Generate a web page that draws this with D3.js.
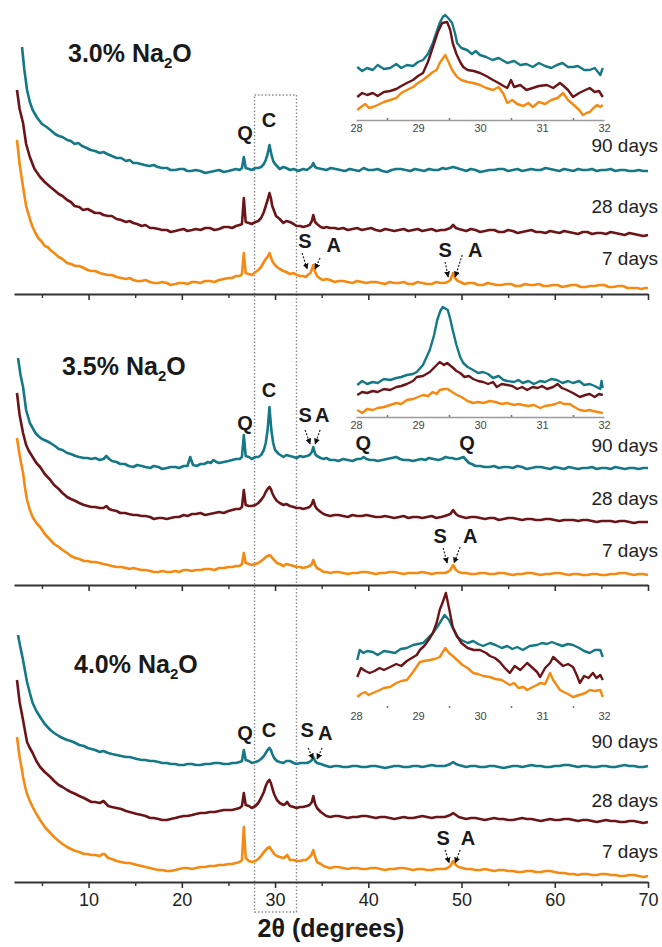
<!DOCTYPE html>
<html><head><meta charset="utf-8">
<script src="https://cdn.jsdelivr.net/npm/d3@7/dist/d3.min.js"></script>
<style>body{margin:0;background:#fff}svg{display:block}</style>
</head><body><svg id="c" width="662" height="947"></svg>
<script>
// ---------------- DATA ----------------
const xTicksMajor = [10, 20, 30, 40, 50, 60, 70];
const xTicksMinor = [5, 15, 25, 35, 45, 55, 65];
const insetTicks = [28, 29, 30, 31, 32];
const insetMinor = [28.5, 29.5, 30.5, 31.5];
const panelTitles = ["3.0%", "3.5%", "4.0%"];
const ages = ["90 days", "28 days", "7 days"];
const zoomWindow = [27.8, 32.3];
const xLabel = "2θ (degrees)";

// 3.0% Na2O  [2θ, intensity a.u.]
const xrd30_90 = [[2.86,247],[3.1,225],[3.4,204],[3.7,192],[4.0,184],[4.5,176],[5.0,170],[5.5,167],[5.9,164],[6.4,160],[6.8,158],[7.2,157],[7.7,154],[8.1,153],[8.5,150],[8.9,151],[9.3,148],[9.8,146],[10.2,144],[10.7,143],[11.2,141],[11.6,142],[12,140],[12.5,138],[13,136],[13.5,136],[14,133],[14.4,134],[14.8,131],[15.2,131],[15.6,130],[16,129],[16.5,128],[17,129],[17.4,127],[17.9,126],[18.4,126],[18.8,124],[19.3,124],[19.8,125],[20.2,125],[20.6,123],[21,123],[21.5,124],[22,123],[22.5,121],[23,122],[23.5,123],[24,124],[24.5,122],[25,123],[25.4,124],[25.8,125],[26.2,124],[26.45,126],[26.65,137],[26.85,126],[27.2,125],[27.5,124],[27.9,126],[28.2,126],[28.5,127],[28.8,130],[29.0,134],[29.2,140],[29.4,149],[29.6,140],[29.8,133],[30,130],[30.3,127],[30.5,125],[30.9,127],[31.2,126],[31.6,124],[32,125],[32.5,123],[33,125],[33.4,124],[33.7,126],[33.95,128],[34.1,131],[34.3,127],[34.5,126],[35,125],[35.5,124],[36,126],[36.5,125],[37,124],[37.5,123],[38,125],[38.5,124],[39,123],[39.5,126],[40,124],[40.5,124],[41,125],[41.5,123],[42,122],[42.5,124],[43,125],[43.5,125],[44,124],[44.5,123],[45,125],[45.5,124],[46,123],[46.5,125],[47,124],[47.5,124],[48,126],[48.3,125],[48.7,126],[49.1,127],[49.5,126],[49.8,125],[50.2,124],[50.5,123],[51,125],[51.5,124],[52,122],[52.5,123],[53,124],[53.5,124],[54,125],[54.5,125],[55,123],[55.5,124],[56,125],[56.5,123],[57,124],[57.5,125],[58,124],[58.5,124],[59,126],[59.5,125],[60,124],[60.5,123],[61,125],[61.5,124],[62,123],[62.5,125],[63,124],[63.5,124],[64,125],[64.5,123],[65,124],[65.5,124],[66,125],[66.5,123],[67,124],[67.5,124],[68,123],[68.5,123],[69,124],[69.5,123],[70,123]];
const xrd30_28 = [[2.32,204],[2.6,185],[2.97,171],[3.3,150],[3.7,137],[4.2,125],[4.8,117],[5.3,112],[5.9,107],[6.3,104],[6.8,100],[7.2,98],[7.7,94],[8.1,92],[8.5,88],[9.0,87],[9.4,84],[9.9,85],[10.3,83],[10.7,81],[11.2,81],[11.6,79],[12.1,78],[12.5,78],[13,75],[13.5,74],[14,72],[14.4,73],[14.8,71],[15.2,70],[15.7,68],[16.1,69],[16.6,66],[17,66],[17.5,65],[17.9,64],[18.4,64],[18.8,62],[19.3,63],[19.7,64],[20.2,65],[20.6,63],[21.1,64],[21.5,65],[22,64],[22.5,66],[23,66],[23.5,64],[24,65],[24.5,67],[25,67],[25.4,66],[25.8,68],[26.2,69],[26.45,70],[26.65,96],[26.85,72],[27.2,71],[27.5,70],[27.9,72],[28.2,73],[28.5,76],[28.8,82],[29.0,88],[29.2,94],[29.4,101],[29.55,96],[29.7,88],[29.9,83],[30.1,78],[30.5,75],[30.9,71],[31.2,73],[31.6,72],[32,70],[32.3,68],[32.7,68],[33,67],[33.4,68],[33.7,69],[33.95,73],[34.1,79],[34.3,72],[34.5,70],[34.9,67],[35.2,66],[35.5,67],[35.9,66],[36.4,66],[36.8,65],[37.3,66],[37.8,64],[38.3,65],[38.8,66],[39.3,64],[39.8,65],[40.3,66],[40.8,64],[41.3,63],[41.8,65],[42.3,64],[42.8,63],[43.3,64],[43.8,65],[44.3,63],[44.8,64],[45.3,65],[45.8,63],[46.3,64],[46.8,65],[47.3,63],[47.8,64],[48.2,64],[48.5,65],[48.8,66],[49.1,69],[49.4,66],[49.7,65],[50.1,64],[50.5,63],[51,65],[51.5,64],[52,62],[52.5,63],[53,64],[53.5,64],[54,62],[54.5,62],[55,64],[55.5,63],[56,61],[56.5,62],[57,63],[57.5,64],[58,62],[58.5,62],[59,61],[59.5,63],[60,62],[60.5,61],[61,63],[61.5,62],[62,61],[62.5,60],[63,62],[63.5,62],[64,60],[64.5,61],[65,61],[65.5,60],[66,62],[66.5,61],[67,60],[67.5,59],[68,61],[68.5,60],[69,59],[69.5,58],[70,59]];
const xrd30_7 = [[2.32,154],[2.6,130],[2.97,107],[3.3,88],[3.7,75],[4.0,67],[4.3,61],[4.6,56],[5.0,52],[5.3,48],[5.6,47],[5.9,44],[6.3,41],[6.8,37],[7.2,35],[7.7,31],[8.1,30],[8.6,28],[9.0,28],[9.5,26],[9.9,24],[10.3,23],[10.7,23],[11.2,21],[11.6,20],[12.1,19],[12.5,19],[13,17],[13.5,16],[14,15],[14.4,16],[14.8,14],[15.2,13],[15.7,13],[16.1,14],[16.6,12],[17,11],[17.5,11],[17.9,12],[18.4,11],[18.8,9],[19.3,10],[19.7,11],[20.2,11],[20.6,10],[21.1,12],[21.5,12],[22,11],[22.5,13],[23,13],[23.5,12],[24,14],[24.5,15],[25,16],[25.4,16],[25.8,18],[26.2,18],[26.45,20],[26.65,41],[26.85,21],[27.2,20],[27.5,19],[27.9,22],[28.2,24],[28.5,27],[28.8,32],[29.0,35],[29.2,37],[29.4,41],[29.55,37],[29.7,33],[29.9,30],[30.2,27],[30.5,25],[30.9,23],[31.2,22],[31.6,20],[32,21],[32.3,19],[32.7,18],[33,18],[33.3,17],[33.5,19],[33.8,21],[34.1,29],[34.3,22],[34.5,18],[34.9,15],[35.2,14],[35.5,15],[35.9,14],[36.4,12],[36.8,13],[37.3,13],[37.8,12],[38.3,11],[38.8,13],[39.3,12],[39.8,11],[40.3,12],[40.8,12],[41.3,11],[41.8,10],[42.3,12],[42.8,11],[43.3,11],[43.8,12],[44.3,10],[44.8,10],[45.3,12],[45.8,11],[46.3,10],[46.8,10],[47.3,12],[47.8,11],[48.2,11],[48.5,12],[48.8,14],[49.1,21],[49.3,16],[49.6,13],[49.9,12],[50.3,10],[50.8,11],[51.3,11],[51.8,9],[52.3,9],[52.8,11],[53.3,10],[53.8,9],[54.3,9],[54.8,10],[55.3,10],[55.8,8],[56.3,8],[56.8,10],[57.3,9],[57.8,9],[58.3,10],[58.8,8],[59.3,8],[59.8,9],[60.3,9],[60.8,7],[61.3,8],[61.8,9],[62.3,9],[62.8,7],[63.3,7],[63.8,8],[64.3,8],[64.8,9],[65.3,9],[65.8,7],[66.3,7],[66.8,8],[67.3,8],[67.8,6],[68.3,6],[68.8,6],[69.3,5],[69.7,6],[70,6]];

// 3.5% Na2O
const xrd35_90 = [[2.43,227],[2.7,210],[2.97,198],[3.3,175],[3.7,162],[4.3,152],[4.6,149],[5.0,146],[5.5,144],[5.9,142],[6.4,139],[6.8,136],[7.2,135],[7.7,132],[8.1,131],[8.6,129],[9,128],[9.5,127],[9.9,127],[10.3,126],[10.7,127],[11.2,125],[11.6,126],[11.9,129],[12.2,126],[12.5,124],[13,123],[13.4,121],[13.9,121],[14.3,119],[14.8,118],[15.2,120],[15.7,119],[16.1,118],[16.6,117],[17,119],[17.5,118],[17.9,116],[18.4,117],[18.8,118],[19.3,118],[19.7,117],[20.2,119],[20.6,119],[20.9,128],[21.2,120],[21.6,119],[22,121],[22.4,121],[22.8,123],[23.1,122],[23.4,125],[23.7,123],[24,122],[24.5,123],[25,124],[25.4,125],[25.8,126],[26.2,126],[26.45,128],[26.65,150],[26.85,129],[27.2,128],[27.5,126],[27.9,128],[28.2,128],[28.5,130],[28.8,135],[29.0,142],[29.2,155],[29.4,178],[29.6,155],[29.8,142],[30,135],[30.4,131],[30.9,128],[31.2,130],[31.6,129],[32,128],[32.3,127],[32.7,129],[33,128],[33.4,129],[33.7,130],[33.95,133],[34.1,138],[34.3,131],[34.5,129],[34.9,127],[35.2,126],[35.5,127],[35.9,125],[36.4,125],[36.8,124],[37.3,126],[37.8,125],[38.3,124],[38.8,126],[39.2,126],[39.5,128],[39.8,126],[40.2,125],[40.6,125],[41,124],[41.5,125],[42,126],[42.5,127],[43,128],[43.4,126],[43.8,125],[44.3,125],[44.8,124],[45.2,125],[45.7,126],[46.1,125],[46.5,127],[47,126],[47.5,125],[47.9,126],[48.3,128],[48.7,127],[49,127],[49.3,126],[49.6,126],[49.9,127],[50.2,128],[50.5,125],[50.8,122],[51.1,121],[51.5,119],[52,119],[52.5,118],[53,118],[53.5,119],[54,117],[54.5,118],[55,118],[55.5,117],[56,119],[56.5,118],[57,116],[57.5,117],[58,118],[58.5,118],[59,117],[59.5,116],[60,118],[60.5,117],[61,116],[61.5,118],[62,117],[62.5,116],[63,117],[63.5,117],[64,118],[64.5,116],[65,117],[65.5,117],[66,116],[66.5,118],[67,117],[67.5,116],[68,117],[68.5,117],[69,116],[69.5,117],[70,117]];
const xrd35_28 = [[2.32,192],[2.6,170],[2.97,152],[3.3,140],[3.6,134],[4.0,128],[4.4,122],[4.8,118],[5.3,111],[5.9,105],[6.3,100],[6.8,96],[7.2,92],[7.7,88],[8.1,86],[8.6,84],[9,82],[9.5,80],[9.9,79],[10.3,78],[10.7,78],[11.2,77],[11.6,77],[11.9,79],[12.2,76],[12.5,75],[13,74],[13.4,72],[13.9,72],[14.3,71],[14.8,70],[15.2,70],[15.7,69],[16.1,69],[16.6,68],[17,66],[17.5,67],[17.9,67],[18.4,66],[18.8,67],[19.3,68],[19.7,68],[20.2,70],[20.6,69],[21.1,71],[21.5,71],[22,72],[22.5,70],[23,71],[23.5,72],[24,73],[24.5,72],[25,74],[25.4,75],[25.8,76],[26.2,76],[26.45,78],[26.65,95],[26.85,80],[27.2,79],[27.5,79],[27.9,80],[28.2,82],[28.5,85],[28.8,89],[29.0,93],[29.2,96],[29.4,98],[29.55,96],[29.7,92],[29.9,88],[30.2,84],[30.5,82],[30.9,80],[31.2,81],[31.6,79],[32,78],[32.3,77],[32.7,77],[33,76],[33.4,77],[33.7,78],[33.95,81],[34.1,85],[34.3,79],[34.5,76],[34.9,73],[35.2,71],[35.5,70],[35.9,69],[36.4,70],[36.8,70],[37.3,69],[37.8,68],[38.3,70],[38.8,69],[39.3,69],[39.8,70],[40.3,69],[40.8,68],[41.3,68],[41.8,69],[42.3,68],[42.8,67],[43.3,68],[43.8,69],[44.3,67],[44.8,68],[45.3,68],[45.8,67],[46.3,68],[46.8,69],[47.3,67],[47.8,68],[48.2,69],[48.5,70],[48.8,71],[49.1,75],[49.4,71],[49.7,69],[50.1,68],[50.5,67],[51,68],[51.5,68],[52,67],[52.5,66],[53,67],[53.5,67],[54,65],[54.5,66],[55,67],[55.5,67],[56,66],[56.5,65],[57,66],[57.5,66],[58,65],[58.5,65],[59,66],[59.5,66],[60,65],[60.5,64],[61,65],[61.5,65],[62,65],[62.5,64],[63,65],[63.5,65],[64,64],[64.5,63],[65,64],[65.5,64],[66,64],[66.5,63],[67,64],[67.5,64],[68,63],[68.5,62],[69,63],[69.5,63],[70,63]];
const xrd35_7 = [[2.32,147],[2.6,130],[2.8,120],[2.97,112],[3.2,96],[3.4,85],[3.7,75],[4.0,68],[4.4,62],[4.8,58],[5.3,51],[5.9,45],[6.3,41],[6.8,38],[7.2,35],[7.7,32],[8.1,29],[8.6,27],[9,26],[9.5,24],[9.9,24],[10.3,23],[10.7,23],[11.2,22],[11.6,21],[12.1,20],[12.5,19],[13,18],[13.5,18],[14,17],[14.4,16],[14.8,17],[15.2,16],[15.7,15],[16.1,15],[16.6,14],[17,13],[17.5,13],[17.9,14],[18.4,13],[18.8,13],[19.3,14],[19.7,13],[20.2,15],[20.6,15],[21.1,14],[21.5,15],[22,15],[22.5,16],[23,16],[23.5,15],[24,17],[24.5,17],[25,18],[25.4,18],[25.8,19],[26.2,19],[26.45,21],[26.65,32],[26.85,22],[27.2,21],[27.5,20],[27.9,21],[28.2,22],[28.5,24],[28.8,26],[29.0,28],[29.2,29],[29.4,30],[29.55,29],[29.7,27],[29.9,25],[30.2,22],[30.5,21],[30.9,19],[31.2,21],[31.6,20],[32,19],[32.3,18],[32.7,18],[33,17],[33.4,18],[33.7,19],[33.95,21],[34.1,25],[34.3,20],[34.5,17],[34.9,15],[35.2,13],[35.5,13],[35.9,12],[36.4,13],[36.8,13],[37.3,12],[37.8,11],[38.3,12],[38.8,12],[39.3,13],[39.8,13],[40.3,12],[40.8,11],[41.3,12],[41.8,12],[42.3,13],[42.8,13],[43.3,12],[43.8,11],[44.3,12],[44.8,12],[45.3,12],[45.8,13],[46.3,12],[46.8,11],[47.3,12],[47.8,12],[48.2,12],[48.5,13],[48.8,15],[49.1,20],[49.4,15],[49.7,13],[50.1,12],[50.5,12],[51,11],[51.5,11],[52,12],[52.5,12],[53,11],[53.5,11],[54,12],[54.5,12],[55,11],[55.5,10],[56,11],[56.5,11],[57,12],[57.5,12],[58,11],[58.5,10],[59,11],[59.5,11],[60,12],[60.5,12],[61,11],[61.5,10],[62,11],[62.5,11],[63,10],[63.5,10],[64,11],[64.5,11],[65,10],[65.5,10],[66,11],[66.5,11],[67,12],[67.5,12],[68,11],[68.5,10],[69,11],[69.5,11],[70,10]];

// 4.0% Na2O
const xrd40_90 = [[2.43,247],[2.7,234],[2.97,222],[3.2,210],[3.4,200],[3.7,189],[4.0,179],[4.4,171],[4.8,165],[5.3,158],[5.9,152],[6.3,149],[6.8,146],[7.2,144],[7.7,142],[8.1,141],[8.6,139],[9,137],[9.5,136],[9.9,134],[10.3,133],[10.7,132],[11.2,130],[11.6,131],[12.1,129],[12.5,128],[13,127],[13.5,126],[14,125],[14.4,125],[14.8,124],[15.2,123],[15.7,122],[16.1,122],[16.6,121],[17,121],[17.5,120],[17.9,119],[18.4,119],[18.8,118],[19.3,118],[19.7,117],[20.2,117],[20.6,118],[21.1,118],[21.5,117],[22,117],[22.5,118],[23,118],[23.5,119],[24,119],[24.5,118],[25,118],[25.4,119],[25.8,119],[26.2,120],[26.45,121],[26.65,132],[26.85,122],[27.2,121],[27.5,119],[27.9,120],[28.2,121],[28.5,123],[28.8,126],[29.0,129],[29.2,132],[29.4,134],[29.55,132],[29.7,128],[29.9,124],[30.2,121],[30.5,120],[30.9,119],[31.2,121],[31.6,121],[32,119],[32.3,118],[32.7,119],[33,119],[33.4,119],[33.7,120],[33.95,122],[34.1,125],[34.3,121],[34.5,119],[34.9,118],[35.2,117],[35.5,116],[35.9,115],[36.4,116],[36.8,116],[37.3,115],[37.8,115],[38.3,116],[38.8,116],[39.3,115],[39.8,115],[40.3,116],[40.8,116],[41.3,115],[41.8,114],[42.3,115],[42.8,116],[43.3,116],[43.8,115],[44.3,115],[44.8,116],[45.3,116],[45.8,115],[46.3,116],[46.8,117],[47.3,116],[47.8,116],[48.2,116],[48.5,117],[48.8,118],[49.1,120],[49.4,118],[49.7,117],[50.1,116],[50.5,115],[51,116],[51.5,116],[52,115],[52.5,115],[53,116],[53.5,116],[54,115],[54.5,114],[55,115],[55.5,116],[56,116],[56.5,115],[57,116],[57.5,117],[58,116],[58.5,116],[59,115],[59.5,115],[60,116],[60.5,116],[61,117],[61.5,117],[62,116],[62.5,115],[63,116],[63.5,116],[64,115],[64.5,115],[65,116],[65.5,116],[66,115],[66.5,115],[67,116],[67.5,117],[68,116],[68.5,116],[69,115],[69.5,115],[70,116]];
const xrd40_28 = [[2.32,202],[2.6,180],[2.97,162],[3.2,150],[3.4,140],[3.7,134],[4.0,129],[4.4,121],[4.8,115],[5.3,110],[5.9,105],[6.3,101],[6.8,97],[7.2,95],[7.7,92],[8.1,90],[8.6,88],[9,86],[9.5,84],[9.9,82],[10.3,80],[10.7,80],[11.2,79],[11.6,81],[12.1,76],[12.5,75],[13,74],[13.5,73],[14,71],[14.4,70],[14.8,69],[15.2,68],[15.7,67],[16.1,66],[16.6,64],[17,64],[17.5,63],[17.9,62],[18.4,62],[18.8,63],[19.3,64],[19.7,65],[20.2,66],[20.6,66],[21.1,67],[21.5,68],[22,69],[22.5,69],[23,70],[23.5,70],[24,71],[24.5,72],[25,72],[25.4,72],[25.8,73],[26.2,74],[26.45,76],[26.65,89],[26.85,77],[27.2,76],[27.5,74],[27.9,76],[28.2,79],[28.5,84],[28.8,90],[29.0,96],[29.2,100],[29.4,102],[29.55,99],[29.7,94],[29.9,88],[30.2,82],[30.5,79],[30.9,77],[31.1,78],[31.3,80],[31.6,76],[32,75],[32.3,74],[32.7,75],[33,75],[33.4,76],[33.7,77],[33.95,80],[34.1,86],[34.3,78],[34.5,74],[34.9,70],[35.2,68],[35.5,66],[35.9,65],[36.4,66],[36.8,66],[37.3,65],[37.8,64],[38.3,65],[38.8,65],[39.3,66],[39.8,66],[40.3,65],[40.8,64],[41.3,65],[41.8,65],[42.3,64],[42.8,63],[43.3,64],[43.8,65],[44.3,64],[44.8,64],[45.3,65],[45.8,66],[46.3,65],[46.8,64],[47.3,65],[47.8,65],[48.2,65],[48.5,66],[48.8,67],[49.1,69],[49.4,67],[49.7,65],[50.1,64],[50.5,63],[51,64],[51.5,64],[52,63],[52.5,62],[53,63],[53.5,64],[54,63],[54.5,63],[55,62],[55.5,62],[56,63],[56.5,64],[57,63],[57.5,63],[58,62],[58.5,61],[59,62],[59.5,63],[60,62],[60.5,62],[61,63],[61.5,63],[62,62],[62.5,61],[63,62],[63.5,62],[64,61],[64.5,60],[65,61],[65.5,62],[66,61],[66.5,61],[67,60],[67.5,60],[68,61],[68.5,61],[69,60],[69.5,59],[70,60]];
const xrd40_7 = [[2.32,145],[2.6,125],[2.8,115],[2.97,105],[3.2,95],[3.4,88],[3.7,81],[4.0,75],[4.4,68],[4.8,62],[5.3,55],[5.9,49],[6.3,45],[6.8,41],[7.2,38],[7.7,35],[8.1,33],[8.6,31],[9,30],[9.5,28],[9.9,28],[10.3,27],[10.7,27],[11.2,26],[11.5,28],[11.7,28],[12.1,24],[12.5,23],[13,21],[13.5,20],[14,19],[14.4,19],[14.8,18],[15.2,17],[15.7,16],[16.1,15],[16.6,14],[17,13],[17.5,12],[17.9,12],[18.4,11],[18.8,11],[19.3,12],[19.7,13],[20.2,14],[20.6,14],[21.1,13],[21.5,14],[22,15],[22.5,15],[23,16],[23.5,16],[24,17],[24.5,17],[25,18],[25.4,18],[25.8,19],[26.2,20],[26.45,22],[26.65,55],[26.85,24],[27.2,21],[27.5,20],[27.9,21],[28.2,23],[28.5,26],[28.8,30],[29.0,32],[29.2,34],[29.4,35],[29.55,33],[29.7,31],[29.9,28],[30.2,26],[30.5,25],[30.9,24],[31.1,25],[31.3,27],[31.6,22],[32,22],[32.3,21],[32.7,21],[33,22],[33.3,22],[33.6,24],[33.9,27],[34.1,32],[34.3,25],[34.5,20],[34.9,18],[35.2,16],[35.5,15],[35.9,14],[36.4,15],[36.8,15],[37.3,14],[37.8,13],[38.3,14],[38.8,14],[39.3,13],[39.8,13],[40.3,14],[40.8,14],[41.3,13],[41.8,12],[42.3,13],[42.8,13],[43.3,14],[43.8,14],[44.3,13],[44.8,12],[45.3,13],[45.8,13],[46.3,12],[46.8,12],[47.3,13],[47.8,13],[48.2,13],[48.5,14],[48.8,16],[49.1,21],[49.4,17],[49.7,15],[50.1,14],[50.5,13],[51,13],[51.5,12],[52,12],[52.5,13],[53,12],[53.5,11],[54,12],[54.5,12],[55,11],[55.5,11],[56,10],[56.5,10],[57,11],[57.5,11],[58,10],[58.5,10],[59,11],[59.5,11],[60,10],[60.5,9],[61,9],[61.5,8],[62,8],[62.5,7],[63,8],[63.5,8],[64,7],[64.5,7],[65,8],[65.5,8],[66,7],[66.5,7],[67,6],[67.5,6],[68,7],[68.5,7],[69,6],[69.5,5],[70,6]];

// Insets (28–32°)
const ins30_90 = [[28.02,53],[28.1,49],[28.18,52],[28.27,50],[28.35,55],[28.45,51],[28.55,52],[28.65,56],[28.73,52],[28.82,55],[28.92,54],[29.0,58],[29.08,60],[29.16,66],[29.24,77],[29.3,88],[29.35,97],[29.4,103],[29.44,105],[29.5,101],[29.55,97],[29.6,86],[29.63,77],[29.7,72],[29.79,70],[29.87,66],[29.93,69],[30.0,65],[30.1,63],[30.2,60],[30.3,62],[30.44,57],[30.55,59],[30.65,55],[30.75,56],[30.85,53],[30.95,57],[31.05,54],[31.15,52],[31.24,55],[31.33,57],[31.42,53],[31.5,53],[31.58,54],[31.68,50],[31.77,50],[31.85,52],[31.94,45],[31.98,52]];
const ins30_28 = [[28.02,23],[28.1,27],[28.18,25],[28.27,27],[28.35,24],[28.45,28],[28.55,29],[28.65,31],[28.73,34],[28.82,37],[28.92,40],[29.0,44],[29.08,47],[29.16,58],[29.24,73],[29.32,88],[29.39,97],[29.47,98],[29.52,90],[29.56,77],[29.62,66],[29.68,58],[29.73,53],[29.8,50],[29.9,49],[30.0,47],[30.1,44],[30.21,40],[30.3,37],[30.38,34],[30.44,32],[30.5,40],[30.55,33],[30.65,35],[30.75,30],[30.85,32],[30.95,34],[31.08,35],[31.18,32],[31.29,37],[31.35,34],[31.42,30],[31.5,23],[31.6,27],[31.7,30],[31.77,32],[31.85,28],[31.92,29],[31.98,23]];
const ins30_7 = [[28.02,10],[28.08,13],[28.15,16],[28.21,12],[28.27,13],[28.35,15],[28.45,18],[28.55,20],[28.65,22],[28.73,27],[28.82,30],[28.92,33],[29.0,37],[29.08,40],[29.16,44],[29.24,48],[29.3,50],[29.35,57],[29.44,65],[29.5,57],[29.55,50],[29.63,43],[29.7,40],[29.8,38],[29.89,37],[30.0,35],[30.1,32],[30.21,30],[30.3,33],[30.38,26],[30.44,17],[30.52,20],[30.6,16],[30.7,14],[30.78,17],[30.85,13],[30.95,18],[31.05,16],[31.15,20],[31.25,22],[31.34,27],[31.42,20],[31.53,14],[31.6,10],[31.66,5],[31.72,7],[31.77,8],[31.83,12],[31.89,15],[31.94,13],[31.98,15]];
const ins35_90 = [[28.02,32],[28.1,36],[28.18,33],[28.27,35],[28.35,34],[28.45,38],[28.55,37],[28.65,39],[28.73,40],[28.82,42],[28.92,43],[28.98,45],[29.08,52],[29.19,67],[29.26,82],[29.31,97],[29.36,106],[29.4,110],[29.48,107],[29.52,98],[29.56,87],[29.62,72],[29.68,60],[29.73,54],[29.8,50],[29.89,47],[29.97,44],[30.05,45],[30.13,43],[30.21,39],[30.3,41],[30.38,37],[30.44,36],[30.55,35],[30.62,37],[30.69,34],[30.78,36],[30.87,33],[30.97,36],[31.05,35],[31.15,38],[31.24,37],[31.33,34],[31.42,36],[31.5,34],[31.6,36],[31.68,32],[31.77,33],[31.85,31],[31.94,28],[31.96,36],[31.98,29]];
const ins35_28 = [[28.02,22],[28.1,25],[28.18,24],[28.27,26],[28.35,25],[28.45,28],[28.55,27],[28.65,30],[28.73,31],[28.82,33],[28.92,36],[28.98,40],[29.08,41],[29.19,45],[29.27,50],[29.35,55],[29.42,52],[29.47,54],[29.55,50],[29.62,46],[29.68,44],[29.75,40],[29.82,41],[29.89,38],[29.97,36],[30.05,35],[30.13,33],[30.21,35],[30.27,30],[30.35,33],[30.44,32],[30.52,31],[30.6,28],[30.68,30],[30.76,27],[30.85,30],[30.93,29],[31.0,31],[31.08,28],[31.18,30],[31.25,33],[31.32,29],[31.4,27],[31.5,24],[31.61,20],[31.7,22],[31.77,23],[31.85,20],[31.92,23],[31.98,22]];
const ins35_7 = [[28.02,7],[28.1,4],[28.18,8],[28.27,7],[28.35,9],[28.45,10],[28.55,12],[28.65,14],[28.73,13],[28.82,17],[28.92,18],[29.0,20],[29.08,22],[29.16,21],[29.24,25],[29.3,23],[29.35,27],[29.42,28],[29.48,28],[29.55,25],[29.63,22],[29.7,20],[29.8,16],[29.89,14],[29.97,15],[30.05,14],[30.16,16],[30.25,15],[30.35,13],[30.44,14],[30.55,12],[30.62,13],[30.69,12],[30.78,11],[30.87,12],[30.97,9],[31.05,11],[31.15,12],[31.22,13],[31.29,15],[31.35,13],[31.45,13],[31.52,10],[31.61,7],[31.7,6],[31.77,7],[31.82,6],[31.9,5],[31.98,4]];
const ins40_90 = [[28.02,48],[28.06,58],[28.12,55],[28.18,57],[28.27,56],[28.35,53],[28.45,57],[28.55,56],[28.63,55],[28.72,59],[28.82,60],[28.92,63],[29.0,64],[29.08,65],[29.16,70],[29.24,75],[29.31,81],[29.38,88],[29.43,93],[29.5,88],[29.56,80],[29.63,71],[29.7,68],[29.8,65],[29.89,67],[29.97,64],[30.05,62],[30.16,65],[30.25,63],[30.35,60],[30.44,62],[30.52,59],[30.6,61],[30.69,58],[30.8,62],[30.92,63],[31.0,65],[31.08,64],[31.16,66],[31.24,64],[31.33,62],[31.42,64],[31.5,63],[31.6,60],[31.68,57],[31.77,55],[31.85,58],[31.94,58],[31.98,51]];
const ins40_28 = [[28.02,31],[28.08,40],[28.15,37],[28.22,35],[28.3,37],[28.38,40],[28.45,38],[28.55,41],[28.65,44],[28.73,42],[28.82,47],[28.9,50],[28.98,53],[29.03,58],[29.1,62],[29.17,68],[29.24,75],[29.3,85],[29.35,98],[29.4,106],[29.45,115],[29.5,100],[29.56,81],[29.63,72],[29.7,65],[29.8,60],[29.9,58],[30.0,58],[30.1,55],[30.16,52],[30.24,50],[30.32,46],[30.4,40],[30.48,35],[30.56,42],[30.65,38],[30.76,45],[30.85,40],[30.92,36],[30.97,31],[31.05,40],[31.13,45],[31.18,51],[31.25,47],[31.34,42],[31.42,44],[31.5,41],[31.56,33],[31.61,25],[31.68,32],[31.75,30],[31.82,35],[31.88,30],[31.94,33],[31.98,28]];
const ins40_7 = [[28.02,11],[28.08,14],[28.15,16],[28.2,13],[28.27,15],[28.35,17],[28.45,20],[28.55,21],[28.65,25],[28.73,27],[28.82,28],[28.92,36],[29.03,46],[29.1,47],[29.19,48],[29.27,49],[29.35,51],[29.44,60],[29.5,55],[29.56,52],[29.63,48],[29.72,43],[29.8,40],[29.89,35],[29.97,34],[30.05,32],[30.16,31],[30.25,29],[30.35,28],[30.48,23],[30.55,25],[30.62,20],[30.7,21],[30.76,18],[30.85,21],[30.92,23],[30.97,25],[31.05,24],[31.13,35],[31.18,28],[31.29,18],[31.35,16],[31.42,14],[31.5,11],[31.6,13],[31.7,15],[31.77,18],[31.85,17],[31.94,18],[31.98,11]];

const mainSeries = [[xrd30_90, xrd30_28, xrd30_7],[xrd35_90, xrd35_28, xrd35_7],[xrd40_90, xrd40_28, xrd40_7]];
const insetSeries = [[ins30_90, ins30_28, ins30_7],[ins35_90, ins35_28, ins35_7],[ins40_90, ins40_28, ins40_7]];

// peak annotations: [label, 2θ, intensity]
const peakLabels = [
  [["Q",26.79,154],["C",29.36,167],["S",33.2,46],["A",36.3,42],["S",48.24,37],["A",51.46,37]],
  [["Q",26.79,155],["C",29.36,188],["S",33.22,163],["A",35.05,163],["Q",39.45,135],["Q",50.6,135],["S",47.7,42],["A",50.93,42]],
  [["Q",26.79,142],["C",29.36,145],["S",33.44,145],["A",35.37,142],["S",48.03,37],["A",50.7,37]]
];
// arrows: [2θ start, intensity start, 2θ end, intensity end]
const arrows = [
  [[32.9,41,33.45,25],[34.83,36,34.3,25],[48.24,32,48.57,17],[50.07,39,49.32,17]],
  [[33.22,155,33.76,141],[34.83,155,34.3,141],[48.03,37,48.46,22],[49.85,38,49.2,22]],
  [[33.55,134,34.08,123],[35.05,134,34.5,123],[48.24,32,48.67,19],[49.85,32,49.32,19]]
];

// ---------------- LAYOUT ----------------
const W = 662, H = 947;
const colors = ["#157887", "#6b1518", "#f58a12"];
const axisYs = [294, 585, 882];
const insetAxisYs = [120, 417, 708];
const titlePos = [[68, 62], [62, 375], [74, 673]];
const ageBaselines = [[152, 213, 265], [452, 505, 557], [748, 807, 858]];
const FONT = "'Liberation Sans', Arial, Helvetica, sans-serif";

const svg = d3.select("#c");
svg.append("rect").attr("width", W).attr("height", H).attr("fill", "#fff");

const x = d3.scaleLinear().domain([2, 70]).range([14, 648]);
const xi = d3.scaleLinear().domain([28, 32]).range([356, 604]);

const defs = svg.append("defs");
defs.append("marker").attr("id", "ah").attr("viewBox", "0 0 10 10").attr("refX", 9).attr("refY", 5)
  .attr("markerWidth", 5).attr("markerHeight", 5).attr("orient", "auto")
  .append("path").attr("d", "M0,0L10,5L0,10z").attr("fill", "#111");

// zoom window (dotted rectangle)
svg.append("rect")
  .attr("x", x(zoomWindow[0])).attr("y", 95)
  .attr("width", x(zoomWindow[1]) - x(zoomWindow[0])).attr("height", 912 - 95)
  .attr("fill", "none").attr("stroke", "#8a8a8a").attr("stroke-width", 1.4)
  .attr("stroke-dasharray", "1.5,2");

axisYs.forEach((ay, p) => {
  const y = d3.scaleLinear().domain([0, 300]).range([ay, ay - 300]);
  const g = svg.append("g");

  // axis
  const ax = g.append("g").attr("transform", `translate(0,${ay})`);
  ax.call(d3.axisBottom(x).tickValues(xTicksMajor).tickSize(6).tickSizeOuter(0)
    .tickFormat(p === 2 ? d3.format("d") : ""));
  ax.select(".domain").attr("stroke", "#333").attr("stroke-width", 2);
  ax.selectAll(".tick line").attr("stroke", "#333").attr("stroke-width", 1.6);
  ax.selectAll(".tick text").attr("font-family", FONT).attr("font-size", 18).attr("fill", "#222").attr("dy", "0.85em");
  const axm = g.append("g").attr("transform", `translate(0,${ay})`);
  axm.call(d3.axisBottom(x).tickValues(xTicksMinor).tickSize(4).tickFormat(""));
  axm.select(".domain").remove();
  axm.selectAll(".tick line").attr("stroke", "#333").attr("stroke-width", 1.4);

  // main curves
  const line = d3.line().x(d => x(d[0])).y(d => y(d[1])).curve(d3.curveLinear);
  mainSeries[p].forEach((s, i) => {
    g.append("path").datum(s).attr("d", line).attr("fill", "none")
      .attr("stroke", colors[i]).attr("stroke-width", 2.6).attr("stroke-linejoin", "round");
  });

  // inset
  const iy0 = insetAxisYs[p];
  const yi = d3.scaleLinear().domain([0, 120]).range([iy0, iy0 - 120]);
  const ia = g.append("g").attr("transform", `translate(0,${iy0})`);
  ia.call(d3.axisBottom(xi).tickValues(insetTicks).tickSize(0).tickPadding(4).tickFormat(d3.format("d")));
  ia.select(".domain").attr("stroke", p === 2 ? "none" : "#9a9a9a").attr("stroke-width", 1.5);
  ia.selectAll(".tick text").attr("font-family", FONT).attr("font-size", 11).attr("fill", "#444");
  const iam = g.append("g").attr("transform", `translate(0,${iy0})`);
  iam.call(d3.axisTop(xi).tickValues(insetMinor).tickSize(2).tickFormat(""));
  iam.select(".domain").remove();
  iam.selectAll(".tick line").attr("stroke", "#777").attr("stroke-width", 1.5);

  const iline = d3.line().x(d => xi(d[0])).y(d => yi(d[1]));
  insetSeries[p].forEach((s, i) => {
    g.append("path").datum(s).attr("d", iline).attr("fill", "none")
      .attr("stroke", colors[i]).attr("stroke-width", 2.4).attr("stroke-linejoin", "round");
  });

  // title
  const t = g.append("text").attr("x", titlePos[p][0]).attr("y", titlePos[p][1])
    .attr("font-family", FONT).attr("font-weight", "bold").attr("font-size", 25).attr("fill", "#1a1a1a");
  t.append("tspan").text(panelTitles[p] + " Na");
  t.append("tspan").attr("dy", 6).attr("font-size", 15).text("2");
  t.append("tspan").attr("dy", -6).text("O");

  // age labels
  ages.forEach((a, i) => {
    g.append("text").attr("x", 658).attr("y", ageBaselines[p][i]).attr("text-anchor", "end")
      .attr("font-family", FONT).attr("font-size", 19).attr("fill", "#222").text(a);
  });

  // peak labels
  peakLabels[p].forEach(([lab, tx, ty]) => {
    g.append("text").attr("x", x(tx)).attr("y", y(ty)).attr("text-anchor", "middle")
      .attr("font-family", FONT).attr("font-weight", "bold").attr("font-size", 20).attr("fill", "#1a1a1a").text(lab);
  });
  // arrows
  arrows[p].forEach(([x1, y1, x2, y2]) => {
    g.append("line").attr("x1", x(x1)).attr("y1", y(y1)).attr("x2", x(x2)).attr("y2", y(y2))
      .attr("stroke", "#222").attr("stroke-width", 1.2).attr("stroke-dasharray", "2,1.5")
      .attr("marker-end", "url(#ah)");
  });
});

// x axis title
svg.append("text").attr("x", 331).attr("y", 937).attr("text-anchor", "middle")
  .attr("font-family", FONT).attr("font-weight", "bold").attr("font-size", 25).attr("fill", "#1a1a1a")
  .text(xLabel);
</script></body></html>
